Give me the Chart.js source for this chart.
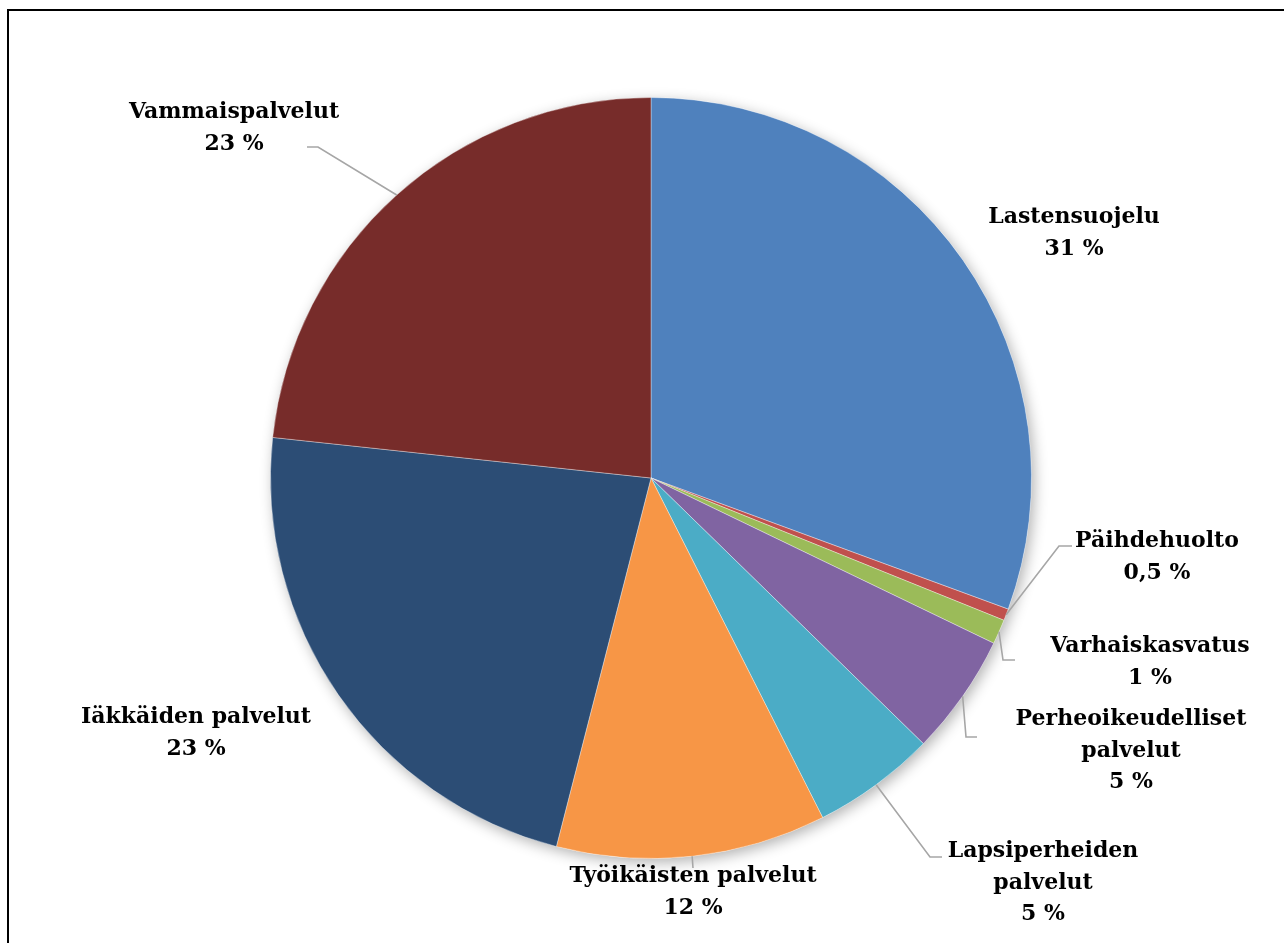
<html>
<head>
    <title>Kustannukset palveluittain</title>
    <script src="https://cdn.jsdelivr.net/npm/chart.js@4.4.0/dist/chart.umd.min.js"></script>
    <style>
        body { margin: 0; background: #fff; }
        #wrap { position: relative; width: 1284px; height: 943px; overflow: hidden; }
        #frame { position: absolute; left: 7px; top: 9px; width: 1290px; height: 950px;
                 border-left: 2px solid #000; border-top: 2px solid #000; }
        #myChart { position: absolute; left: 0; top: 0; }
    </style>
</head>

<body>
    <div id="wrap">
        <div id="frame"></div>
        <canvas id="myChart" width="1284" height="943"></canvas>
    </div>
    <script type="text/javascript">
        // osuudet kuvasta luettuna (%)
        const categories = ['Lastensuojelu', 'Päihdehuolto', 'Varhaiskasvatus', 'Perheoikeudelliset palvelut',
            'Lapsiperheiden palvelut', 'Työikäisten palvelut', 'Iäkkäiden palvelut', 'Vammaispalvelut'];
        const values = [30.6, 0.5, 1.05, 5.15, 5.25, 11.45, 22.7, 23.3];
        const percentLabels = ['31 %', '0,5 %', '1 %', '5 %', '5 %', '12 %', '23 %', '23 %'];
        const labelLines = [
            ['Lastensuojelu'],
            ['Päihdehuolto'],
            ['Varhaiskasvatus'],
            ['Perheoikeudelliset', 'palvelut'],
            ['Lapsiperheiden', 'palvelut'],
            ['Työikäisten palvelut'],
            ['Iäkkäiden palvelut'],
            ['Vammaispalvelut']
        ];

        const colors = ['#4F81BD', '#C0504D', '#9BBB59', '#8064A2', '#4BACC6', '#F79646', '#2C4D75', '#772C2A'];

        // tekstien sijainti (keskikohta x, ensimmäisen rivin perusviiva y) ja viivojen taitteet
        const labelPos = [
            { x: 1074, y: 223 },
            { x: 1157, y: 547, elbow: [1059, 546], end: [1072, 546] },
            { x: 1150, y: 652, elbow: [1003, 660], end: [1015, 660] },
            { x: 1131, y: 725, elbow: [966, 737], end: [977, 737] },
            { x: 1043, y: 857, elbow: [930, 857], end: [942, 857] },
            { x: 693, y: 882, elbow: null, end: [693, 868] },
            { x: 196, y: 723 },
            { x: 234, y: 118, elbow: [318, 147], end: [307, 147] }
        ];
        const lineHeight = 31.5;

        const shadowPlugin = {
            id: 'pieShadow',
            beforeDatasetsDraw(chart) {
                const arc = chart.getDatasetMeta(0).data[0];
                if (!arc) return;
                const ctx = chart.ctx;
                ctx.save();
                ctx.shadowColor = 'rgba(0,0,0,0.3)';
                ctx.shadowBlur = 14;
                ctx.shadowOffsetX = 3;
                ctx.shadowOffsetY = 4;
                ctx.fillStyle = '#fff';
                ctx.beginPath();
                ctx.arc(arc.x, arc.y, arc.outerRadius, 0, Math.PI * 2);
                ctx.fill();
                ctx.restore();
            }
        };

        const labelPlugin = {
            id: 'pieLabels',
            afterDatasetsDraw(chart) {
                const ctx = chart.ctx;
                const arcs = chart.getDatasetMeta(0).data;
                ctx.save();
                // johtoviivat
                ctx.strokeStyle = '#A6A6A6';
                ctx.lineWidth = 1.6;
                arcs.forEach(function(a, k) {
                    const p = labelPos[k];
                    if (!p.end) return;
                    const mid = (a.startAngle + a.endAngle) / 2;
                    const sx = a.x + Math.cos(mid) * a.outerRadius;
                    const sy = a.y + Math.sin(mid) * a.outerRadius;
                    ctx.beginPath();
                    ctx.moveTo(sx, sy);
                    if (p.elbow) ctx.lineTo(p.elbow[0], p.elbow[1]);
                    ctx.lineTo(p.end[0], p.end[1]);
                    ctx.stroke();
                });
                // tekstit
                ctx.fillStyle = '#000';
                ctx.font = 'bold 22px "DejaVu Serif"';
                ctx.textAlign = 'center';
                ctx.textBaseline = 'alphabetic';
                labelLines.forEach(function(lines, k) {
                    const p = labelPos[k];
                    const all = lines.concat([percentLabels[k]]);
                    all.forEach(function(t, j) {
                        ctx.fillText(t, p.x, p.y + j * lineHeight);
                    });
                });
                ctx.restore();
            }
        };

        const data = {
            labels: categories,
            datasets: [{
                data: values,
                backgroundColor: colors,
                borderColor: 'rgba(255,255,255,0.35)',
                borderWidth: 1
            }]
        };
        const config = {
            type: 'pie',
            data: data,
            options: {
                responsive: false,
                animation: false,
                events: [],
                layout: { padding: { left: 267, right: 249, top: 97, bottom: 84 } },
                plugins: {
                    legend: { display: false },
                    tooltip: { enabled: false }
                }
            },
            plugins: [shadowPlugin, labelPlugin]
        };
        var myChart = new Chart(document.getElementById('myChart'), config);
    </script>
</body>

</html>
